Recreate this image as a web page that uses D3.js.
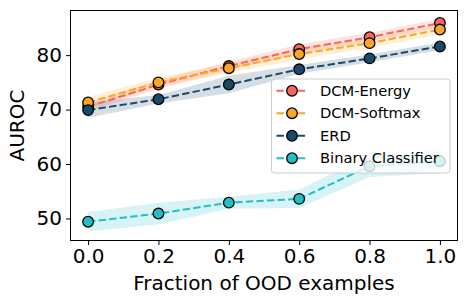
<!DOCTYPE html>
<html>
<head>
<meta charset="utf-8">
<script src="https://cdn.jsdelivr.net/npm/d3@7"></script>
<style>
  body { margin: 0; background: #fff; }
  text { font-family: "DejaVu Sans", sans-serif; fill: #000; }
</style>
</head>
<body>
<svg id="chart" width="467" height="304"></svg>
<script>
// data
var fractions = [0.0, 0.2, 0.4, 0.6, 0.8, 1.0];
var seriesNames = ["DCM-Energy", "DCM-Softmax", "ERD", "Binary Classifier"];
var energyMean  = [70.5, 74.6, 78.0, 81.1, 83.3, 85.9];
var energyStd   = [0.8, 0.8, 0.8, 0.9, 0.8, 0.8];
var softmaxMean = [71.3, 75.0, 77.6, 80.2, 82.2, 84.7];
var softmaxStd  = [1.0, 0.9, 0.9, 1.0, 0.9, 0.9];
var erdMean     = [69.9, 71.9, 74.6, 77.4, 79.4, 81.6];
var erdStd      = [1.4, 0.8, 1.6, 0.8, 0.7, 0.7];
var binaryMean  = [49.4, 50.9, 52.9, 53.6, 59.6, 60.5];
var binaryStd   = [1.8, 2.0, 1.1, 1.7, 2.0, 2.2];
var yTicks = [50, 60, 70, 80];
var xTicks = [0.0, 0.2, 0.4, 0.6, 0.8, 1.0];

var colors = ["#f7665b", "#fba726", "#1a4a6b", "#22bfc6"];
var means = [energyMean, softmaxMean, erdMean, binaryMean];
var stds = [energyStd, softmaxStd, erdStd, binaryStd];

var svg = d3.select("#chart");
var frame = {l: 70.5, r: 457.5, t: 10.5, b: 240.5};

var xScale = d3.scaleLinear().domain([-0.05, 1.05]).range([frame.l, frame.r]);
var yScale = d3.scaleLinear().domain([45.95, 88.2]).range([frame.b, frame.t]);

var series = seriesNames.map(function(name, i) {
  return {
    name: name,
    color: colors[i],
    points: fractions.map(function(f, j) {
      return {x: f, y: means[i][j], s: stds[i][j]};
    })
  };
});

var area = d3.area()
  .x(function(d) { return xScale(d.x); })
  .y0(function(d) { return yScale(d.y - d.s); })
  .y1(function(d) { return yScale(d.y + d.s); });

var line = d3.line()
  .x(function(d) { return xScale(d.x); })
  .y(function(d) { return yScale(d.y); });

var plot = svg.append("g");

// bands first
plot.selectAll(".band")
  .data(series)
  .enter().append("path")
  .attr("class", "band")
  .attr("d", function(d) { return area(d.points); })
  .style("fill", function(d) { return d.color; })
  .style("fill-opacity", 0.18);

// then each series' line and markers
series.forEach(function(s) {
  var g = plot.append("g");
  g.append("path")
    .attr("d", line(s.points))
    .style("fill", "none")
    .style("stroke", s.color)
    .style("stroke-width", 2)
    .style("stroke-dasharray", "7.4,3.2");
  g.selectAll("circle")
    .data(s.points)
    .enter().append("circle")
    .attr("cx", function(d) { return xScale(d.x); })
    .attr("cy", function(d) { return yScale(d.y); })
    .attr("r", 5.3)
    .style("fill", s.color)
    .style("stroke", "#000")
    .style("stroke-width", 1.3);
});

// axes
var xAxis = d3.axisBottom(xScale).tickValues(xTicks).tickFormat(d3.format(".1f")).tickSize(4.5).tickPadding(4);
var yAxis = d3.axisLeft(yScale).tickValues(yTicks).tickSize(4.5).tickPadding(4);

var gx = svg.append("g").attr("transform", "translate(0," + frame.b + ")").call(xAxis);
var gy = svg.append("g").attr("transform", "translate(" + frame.l + ",0)").call(yAxis);
[gx, gy].forEach(function(g) {
  g.select(".domain").remove();
  g.selectAll("line").style("stroke", "#000").style("stroke-width", 1);
  g.selectAll("text").style("font-size", "20px").style("font-family", "DejaVu Sans");
});

svg.append("rect")
  .attr("x", frame.l).attr("y", frame.t)
  .attr("width", frame.r - frame.l).attr("height", frame.b - frame.t)
  .style("fill", "none").style("stroke", "#000").style("stroke-width", 1);

svg.append("text")
  .attr("x", (frame.l + frame.r) / 2)
  .attr("y", 290)
  .attr("text-anchor", "middle")
  .style("font-size", "20px")
  .text("Fraction of OOD examples");

svg.append("text")
  .attr("transform", "translate(24," + ((frame.t + frame.b) / 2) + ") rotate(-90)")
  .attr("text-anchor", "middle")
  .style("font-size", "20px")
  .text("AUROC");

// legend
var legend = svg.append("g").attr("transform", "translate(271.5,79)");
legend.append("rect")
  .attr("width", 178.5).attr("height", 94)
  .attr("rx", 3)
  .style("fill", "#fff").style("fill-opacity", 0.8)
  .style("stroke", "#ccc").style("stroke-width", 1);

var items = legend.selectAll(".item")
  .data(series)
  .enter().append("g")
  .attr("class", "item")
  .attr("transform", function(d, i) { return "translate(0," + (11.7 + i * 22.5) + ")"; });

items.append("line")
  .attr("x1", 5).attr("x2", 35)
  .style("stroke", function(d) { return d.color; })
  .style("stroke-width", 2)
  .style("stroke-dasharray", "7.4,3.2");
items.append("circle")
  .attr("cx", 20.5).attr("r", 5.3)
  .style("fill", function(d) { return d.color; })
  .style("stroke", "#000").style("stroke-width", 1.3);
items.append("text")
  .attr("x", 48.5).attr("dy", "0.35em")
  .style("font-size", "14.7px")
  .text(function(d) { return d.name; });
</script>
</body>
</html>
